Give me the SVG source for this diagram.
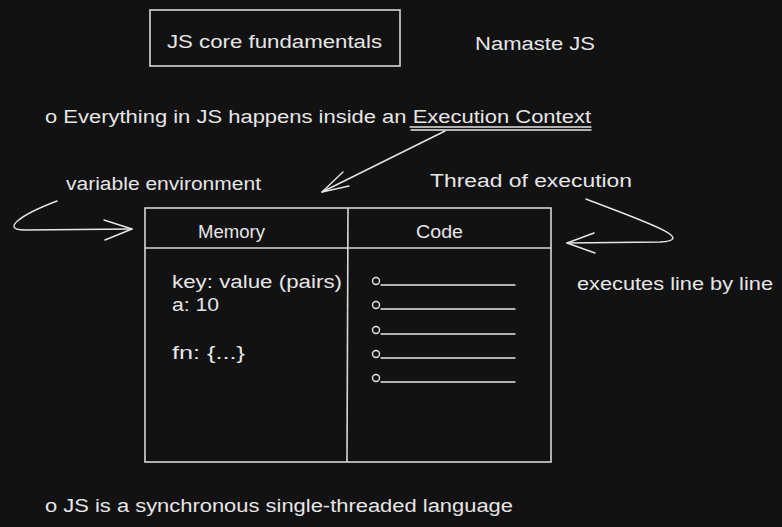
<svg xmlns="http://www.w3.org/2000/svg" width="782" height="527" viewBox="0 0 782 527">
<defs>
<style>
.t{font-family:"Liberation Sans","DejaVu Sans",sans-serif;font-size:18px;fill:#e6e6e6}
.s{stroke:#e6e6e6;stroke-width:1.4;fill:none;stroke-linecap:round;stroke-linejoin:round}
.b{stroke:#d8d8d8;stroke-width:1.6;fill:none}
</style>
</defs>
<rect width="782" height="527" fill="#121212"/>
<g id="title">
<rect class="b" x="150" y="10" width="250" height="56"/>
<text class="t" x="167" y="48" textLength="215" lengthAdjust="spacingAndGlyphs">JS core fundamentals</text>
</g>
<g id="namaste"><text class="t" x="475" y="50" textLength="120" lengthAdjust="spacingAndGlyphs">Namaste JS</text></g>
<g id="line1">
<text class="t" x="45" y="123" textLength="546" lengthAdjust="spacingAndGlyphs">o Everything in JS happens inside an Execution Context</text>
<line class="s" x1="410" y1="127" x2="591" y2="127" stroke-width="1.2"/>
<line class="s" x1="411" y1="130" x2="591" y2="130" stroke-width="1.2"/>
</g>
<g id="varenv"><text class="t" x="66" y="190" textLength="195" lengthAdjust="spacingAndGlyphs">variable environment</text></g>
<g id="thread"><text class="t" x="430" y="187" textLength="202" lengthAdjust="spacingAndGlyphs">Thread of execution</text></g>
<g id="executes"><text class="t" x="577" y="290" textLength="196" lengthAdjust="spacingAndGlyphs">executes line by line</text></g>
<g id="ec">
<rect class="b" x="145" y="208" width="406" height="254"/>
<line class="b" x1="145" y1="248" x2="551" y2="248"/>
<line class="b" x1="348" y1="208" x2="347" y2="462"/>
<text class="t" x="198" y="238" textLength="67" lengthAdjust="spacingAndGlyphs">Memory</text>
<text class="t" x="416" y="238" textLength="47" lengthAdjust="spacingAndGlyphs">Code</text>
<text class="t" x="172" y="288" textLength="170" lengthAdjust="spacingAndGlyphs">key: value (pairs)</text>
<text class="t" x="172" y="311" textLength="47" lengthAdjust="spacingAndGlyphs">a: 10</text>
<text class="t" x="172" y="359" textLength="73" lengthAdjust="spacingAndGlyphs">fn: {...}</text>
<g class="s">
<circle cx="376" cy="281" r="3.5"/><line x1="381" y1="285" x2="515" y2="285"/>
<circle cx="376" cy="305" r="3.5"/><line x1="381" y1="309" x2="515" y2="309"/>
<circle cx="376" cy="330" r="3.5"/><line x1="381" y1="334" x2="515" y2="334"/>
<circle cx="376" cy="354" r="3.5"/><line x1="381" y1="358" x2="515" y2="358"/>
<circle cx="376" cy="378" r="3.5"/><line x1="381" y1="382" x2="515" y2="382"/>
</g>
</g>
<g id="line2"><text class="t" x="45" y="512" textLength="468" lengthAdjust="spacingAndGlyphs">o JS is a synchronous single-threaded language</text></g>
<g id="connectors" class="s">
<path d="M445 131 L322 192"/>
<path d="M322 192 L343 172 M322 192 L349 186"/>
<path d="M57 201 C20 215 0 230 25 230 L132 229"/>
<path d="M132 229 L104 220 M132 229 L105 240"/>
<path d="M586 199 C640 220 700 240 660 242 L567 243"/>
<path d="M567 243 L594 233 M567 243 L595 253"/>
</g>
</svg>
